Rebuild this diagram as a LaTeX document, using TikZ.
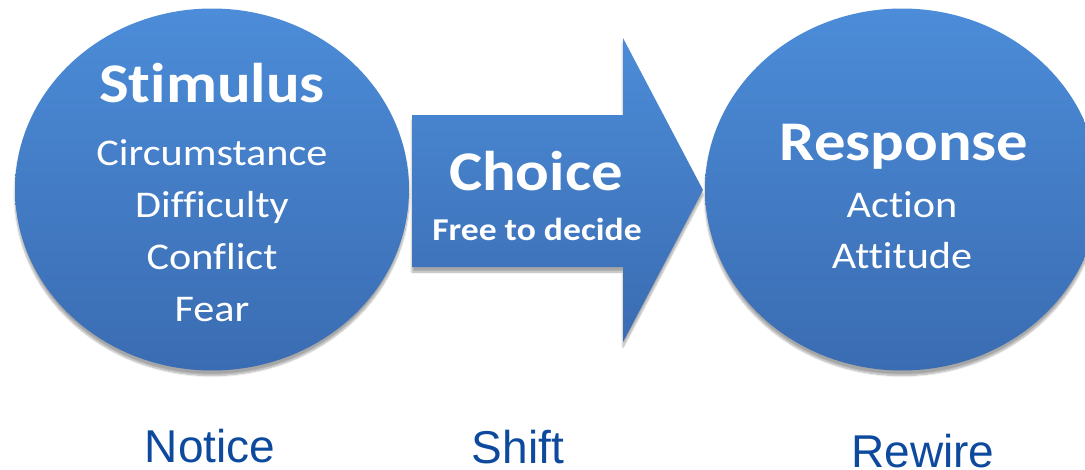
\documentclass[tikz,border=0pt]{standalone}
\usepackage{fontspec}
\setmainfont{Carlito}[FakeStretch=1.12,Ligatures=NoCommon]
\newfontfamily\tagfont{Liberation Sans}
\usetikzlibrary{shapes.geometric,shadows.blur}
\definecolor{blobtop}{RGB}{76,140,216}
\definecolor{blobbot}{RGB}{58,108,178}
\definecolor{tagblue}{RGB}{13,74,158}
\begin{document}
\begin{tikzpicture}[x=1pt,y=-1pt,
    soft/.style={blur shadow={shadow xshift=0pt,shadow yshift=-5pt,shadow blur steps=10,shadow opacity=35}},
    bubble/.style={ellipse,minimum width=394pt,minimum height=362pt,inner sep=0pt,
        top color=blobtop,bottom color=blobbot,soft},
    head/.style={text=white,anchor=base,font=\fontsize{56}{60}\selectfont\bfseries},
    item/.style={text=white,anchor=base,font=\fontsize{37.7}{44}\selectfont},
    tag/.style={text=tagblue,anchor=base,inner sep=0pt,font=\tagfont\fontsize{46}{52}\selectfont}
]
    \useasboundingbox (0,0) rectangle (1085,469);
    \node[bubble] (stim) at (212,189.5) {};
    \node[bubble] (resp) at (902,189.5) {};
    % the choice arrow
    \path[top color=blobtop,bottom color=blobbot,soft]
        (412,115) -- (623,115) -- (623,38) -- (703,190) -- (623,342)
        -- (623,267) -- (412,267) -- cycle;
    \node[head] (stimhead) at (212,102) {Stimulus};
    \foreach \w [count=\i from 0] in {Circumstance,Difficulty,Conflict,Fear}
        \node[item] (stim\i) at (212,{165+52.3*\i}) {\w};
    \node[head] (choice) at (536,190) {Choice};
    \node[item,font=\fontsize{31.8}{38}\selectfont\bfseries] (free) at (537,240) {Free to decide};
    \node[head] (resphead) at (904,160) {Response};
    \node[item] (action) at (902,217) {Action};
    \node[item] (attitude) at (902,268) {Attitude};
    \node[tag] (notice) at (210,462) {Notice};
    \node[tag] (shift) at (518,463) {Shift};
    \node[tag] (rewire) at (923,467) {Rewire};
\end{tikzpicture}
\end{document}
